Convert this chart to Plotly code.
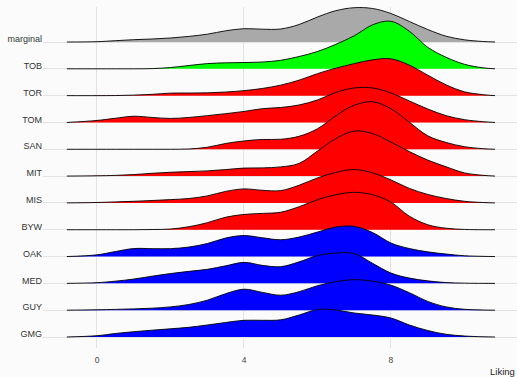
import plotly.graph_objects as go

# Liking grid at which the ridge heights were read
liking = [-0.82, 0, 0.5, 1, 1.5, 2, 2.5, 3, 3.5, 4, 4.5, 5, 5.5, 6, 6.5, 7,
          7.5, 8, 8.5, 9, 9.5, 10, 10.5, 10.83]

# rows from bottom to top
categories = ["GMG", "GUY", "MED", "OAK", "BYW", "MIS", "MIT", "SAN", "TOM",
              "TOR", "TOB", "marginal"]

# relative density heights (scaled ridge heights)
GMG = [0, 1.3, 3.5, 5.3, 6.8, 8.2, 9.7, 12, 14.5, 16.7, 16.7, 17.2, 22, 27.5,
       27, 24, 22, 19, 12, 6.5, 2.7, 1, 0.2, 0]
GUY = [0, 0.4, 0.8, 1.3, 2, 3.3, 5.7, 10, 16.5, 21, 17.8, 15, 18.5, 24.5, 28.5,
       30.5, 29, 25, 17.5, 8.8, 3.3, 0.9, 0.2, 0]
MED = [0, 0.7, 2.2, 4.3, 7.2, 9.8, 12, 14, 17.5, 21, 18, 16.7, 21.5, 27.8,
       30.3, 29.8, 20, 10.3, 5.3, 2.5, 0.8, 0.2, 0, 0]
OAK = [0, 1.7, 5, 8, 7.9, 7.9, 9.5, 13, 18.5, 21, 18.8, 16.8, 19.5, 24.5, 29.5,
       30.2, 24, 13.5, 8, 4.7, 2.5, 0.8, 0.2, 0]
BYW = [0, 0, 0, 0, 0.2, 0.7, 3, 7, 12.5, 15.3, 16.3, 17.5, 23, 30, 35, 37.4,
       35, 27.6, 13.5, 5, 1.5, 0.3, 0, 0]
MIS = [0, 0.4, 1, 1.6, 2.4, 3.3, 4.4, 7, 11.5, 14, 12.6, 12.3, 17.7, 25, 30.5,
       33.4, 30, 23, 14.5, 8.5, 4.4, 1.6, 0.4, 0]
MIT = [0, 0.3, 0.7, 1.5, 2.8, 3.8, 4.5, 5.2, 6.5, 8, 8.2, 9.2, 12.7, 25, 37.5,
       45, 42.5, 34, 24.5, 16, 9.3, 3.2, 0.8, 0]
SAN = [0, 0, 0, 0, 0, 0, 0.3, 2, 5.8, 8.3, 9.8, 10, 13, 20.5, 33.5, 44, 47.5,
       40.5, 27, 13.5, 6.8, 2.6, 0.6, 0]
TOM = [0, 2, 4.2, 6.2, 5, 4, 5, 6.8, 8.8, 11, 13.8, 15, 17.5, 22.5, 30, 34.5,
       34.5, 29.5, 21.5, 13.5, 6.8, 2.8, 0.8, 0]
TOR = [0, 0, 0.1, 0.5, 1.3, 2.5, 2.6, 2.8, 3.6, 5, 7.2, 10.5, 15.5, 22, 27.5,
       32, 35.8, 36.8, 30.5, 20.5, 10.8, 3.8, 1, 0]
TOB = [0, 0, 0, 0, 0.2, 1.3, 3.3, 5.2, 6, 6.3, 6.8, 8.5, 12.3, 17.3, 24.5, 33,
       44, 47.5, 37.5, 21.5, 11.5, 4.5, 1, 0]
marginal = [0, 0.3, 1.3, 2.3, 3, 4, 5.6, 7.8, 11.2, 13.3, 12.8, 13, 17.5, 25,
            31.3, 34.3, 33.5, 28.5, 20.5, 12.5, 5.8, 2.2, 0.5, 0]

series = [GMG, GUY, MED, OAK, BYW, MIS, MIT, SAN, TOM, TOR, TOB, marginal]
colors = ["#0000FF"] * 4 + ["#FF0000"] * 6 + ["#00FF00", "#A9A9A9"]

SCALE = 1 / 26.82  # height units per row spacing

fig = go.Figure()
# draw top row first so lower rows overlap the ones above
for idx in reversed(range(len(categories))):
    h = series[idx]
    base = idx
    fig.add_trace(go.Scatter(
        x=[liking[0], liking[-1]], y=[base, base], mode="lines",
        line=dict(width=0, color="rgba(0,0,0,0)"), hoverinfo="skip",
        showlegend=False))
    fig.add_trace(go.Scatter(
        x=liking, y=[base + v * SCALE for v in h], mode="lines",
        fill="tonexty", fillcolor=colors[idx],
        line=dict(color="black", width=0.9, shape="spline", smoothing=1),
        name=categories[idx], showlegend=False))

grid = "#e3e3e3"
bg = "#fbfbfb"
fig.update_layout(
    width=517, height=377,
    margin=dict(l=43, r=0, t=7, b=29, pad=0),
    paper_bgcolor=bg, plot_bgcolor=bg,
    font=dict(family="Liberation Sans, Arial, sans-serif", size=9,
              color="#444444"),
    xaxis=dict(range=[-1.469, 11.429], tickvals=[0, 4, 8],
               ticktext=["0", "4", "8"], showgrid=True, gridcolor=grid,
               gridwidth=1, zeroline=False, showline=False, ticks="",
               automargin=False, ticklabelstandoff=5,
               tickfont=dict(size=8.5, color="#444444")),
    yaxis=dict(range=[-0.41, 12.305], tickvals=list(range(len(categories))),
               ticktext=categories, showgrid=True, gridcolor=grid,
               gridwidth=1, zeroline=False, showline=False, ticks="",
               ticklabelshift=-3, automargin=False,
               tickfont=dict(size=9, color="#333333")),
    annotations=[dict(text="Liking", x=1, xref="paper", xanchor="right",
                      y=-0.07, yref="paper", yanchor="middle",
                      showarrow=False,
                      font=dict(size=9.5, color="#222222"))],
)

fig.write_html(
    "out.html",
    config={"displayModeBar": False},
    post_script="document.body.style.margin='0';"
                "document.body.style.padding='0';"
                "document.body.style.background='#fbfbfb';",
)
